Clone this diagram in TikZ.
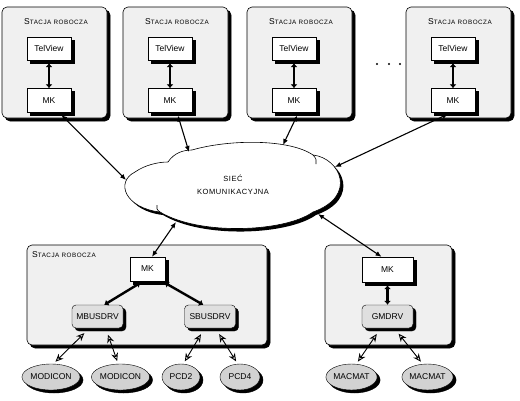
\documentclass[tikz,border=0pt]{standalone}
\usepackage{fontspec}
\setmainfont{Liberation Sans}
\newfontfamily\widefont[LetterSpace=8]{Liberation Sans}
\usetikzlibrary{shapes.geometric,arrows.meta}

\newcommand{\stacjatitle}{{\widefont\fontsize{8.5}{9}\selectfont S\fontsize{6.3}{8}\selectfont TACJA ROBOCZA}}
\newcommand{\netoutline}{(168,162) .. controls (174,153) and (183,150) .. (192,150)
  .. controls (230,139) and (290,139) .. (313,155)
  .. controls (340,158) and (358,196) .. (313,212)
  .. controls (285,232) and (200,236) .. (160,212)
  .. controls (125,208) and (115,182) .. (135,172)
  .. controls (145,165) and (158,162) .. (168,162) -- cycle}

\tikzset{
  boxshadow/.style={preaction={draw=black,fill=black,transform canvas={shift={(3pt,-3pt)}}}},
  panel/.style={draw,fill=gray!12,rounded corners=5pt,boxshadow,line width=0.6pt},
  modbox/.style={draw,fill=white,minimum width=44pt,minimum height=23pt,inner sep=0pt,boxshadow,font=\fontsize{8.5}{9}\selectfont},
  drvbox/.style={draw,fill=gray!25,rounded corners=4pt,minimum width=51pt,minimum height=23pt,inner sep=0pt,boxshadow,font=\fontsize{8.5}{9}\selectfont},
  device/.style={ellipse,draw,fill=gray!35,minimum width=46pt,minimum height=26pt,inner sep=0pt,boxshadow,font=\fontsize{8.5}{9}\selectfont},
  link/.style={{Latex[length=6pt 0 0,width=5pt 0 0]}-{Latex[length=6pt 0 0,width=5pt 0 0]},line width=1.1pt},
  thicklink/.style={{Latex[length=4pt 0 0,width=7pt 0 0]}-{Latex[length=4pt 0 0,width=7pt 0 0]},line width=2.4pt},
  devlink/.style={{Stealth[open,length=8pt 0 0,width=7pt 0 0]}-{Stealth[open,length=8pt 0 0,width=7pt 0 0]},line width=0.9pt,shorten <=7pt,shorten >=3pt},
}

\begin{document}
\begin{tikzpicture}[x=1pt,y=-1pt]
\useasboundingbox (0,0) rectangle (520,400);

% top work stations
\foreach \i/\x in {1/2,2/123,3/247,4/406}{
  \node[panel,minimum width=105pt,minimum height=111pt] (st\i) at (\x+52.5,62.5) {};
  \node[inner sep=0pt] (lab\i) at (\x+54,22) {\stacjatitle};
  \node[modbox] (tv\i) at (\x+47,48.5) {TelView};
  \node[modbox,minimum height=24pt] (mk\i) at (\x+47,100.5) {MK};
  \draw[thicklink,shorten <=3pt] (tv\i) -- (mk\i);
}

\foreach \d in {377,389,400}
  \fill (\d,64) circle (1.1);

% network
\fill[black,shift={(3,3)}] \netoutline;
\draw[fill=white,line width=0.6pt] \netoutline;
\draw[line width=0.6pt] (313,155) .. controls (316,158) and (317,161) .. (316,164);
\draw[line width=0.6pt] (160,212) .. controls (157,210) and (156,208) .. (157,205);
\node[align=center,font=\widefont\fontsize{7.5}{13}\selectfont] (net) at (233,185) {SIEĆ\\KOMUNIKACYJNA};
\coordinate (netW) at (126,180);
\coordinate (netNW) at (189,152);
\coordinate (netN) at (283,145);
\coordinate (netE) at (335,167);
\coordinate (netSW) at (176,222);
\coordinate (netSE) at (318,214);

\draw[link,shorten <=3pt] (mk1.-50) -- (netW);
\draw[link,shorten <=3pt] (mk2.-60) -- (netNW);
\draw[link,shorten <=3pt] (mk3.-70) -- (netN);
\draw[link,shorten <=3pt] (mk4.-100) -- (netE);

% bottom left station
\node[panel,minimum width=240pt,minimum height=100pt] (st5) at (147,295) {};
\node[anchor=west,inner sep=0pt] (lab5) at (32,255) {\stacjatitle};
\node[modbox,minimum width=35pt,minimum height=24pt] (mk5) at (147.5,269) {MK};
\node[drvbox] (mbus) at (97.5,316.5) {MBUSDRV};
\node[drvbox] (sbus) at (210,316.5) {SBUSDRV};
\node[device] (mod1) at (51,377) {MODICON};
\node[device] (mod2) at (120.5,377) {MODICON};
\node[device,minimum width=38pt] (pcd2) at (181,377) {PCD2};
\node[device,minimum width=40pt] (pcd4) at (240,377) {PCD4};

% bottom right station
\node[panel,minimum width=127pt,minimum height=100pt] (st6) at (388.5,295) {};
\node[modbox,minimum width=51pt,minimum height=25pt] (mk6) at (387.5,269.5) {MK};
\node[drvbox] (gmd) at (387.5,316.5) {GMDRV};
\node[device,minimum width=51pt] (mac1) at (351.5,377) {MACMAT};
\node[device,minimum width=50pt] (mac2) at (427.5,377) {MACMAT};

\draw[link] (netSW) -- (mk5.70);
\draw[link] (netSE) -- (mk6.115);
\draw[thicklink,shorten <=3pt] (mk5.-110) -- (mbus.60);
\draw[thicklink,shorten <=3pt] (mk5.-40) -- (sbus.120);
\draw[thicklink,shorten <=3pt] (mk6) -- (gmd);

\draw[devlink] (mbus.-125) -- (mod1.80);
\draw[devlink] (mbus.-55) -- (mod2.100);
\draw[devlink] (sbus.-115) -- (pcd2.80);
\draw[devlink] (sbus.-65) -- (pcd4.100);
\draw[devlink] (gmd.-120) -- (mac1.70);
\draw[devlink] (gmd.-60) -- (mac2.110);
\end{tikzpicture}
\end{document}
